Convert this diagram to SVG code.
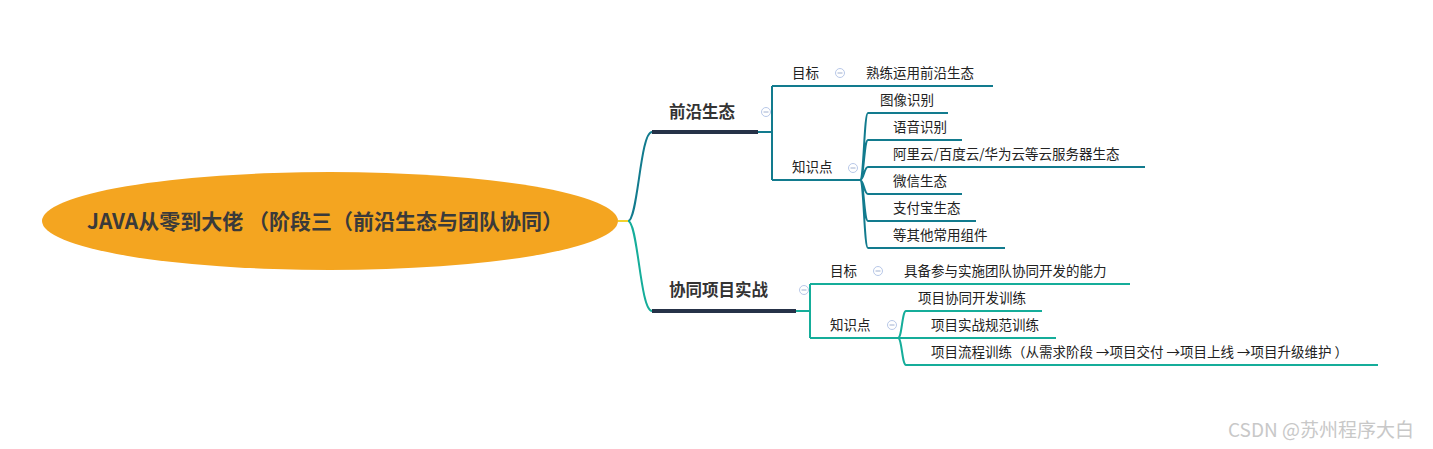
<svg xmlns="http://www.w3.org/2000/svg" width="1433" height="449" viewBox="0 0 1433 449">
<style>
text{font-family:"Noto Sans CJK SC","Noto Sans",sans-serif;fill:#222}
.t{font-size:13.5px}
.b{font-size:16.5px;font-weight:bold;fill:#333}
.a{fill:none;stroke:#127b8e;stroke-width:2}
.g{fill:none;stroke:#15ad9a;stroke-width:2}
.d{stroke:#263248;stroke-width:4}
.ic{fill:#fff;stroke:#b8c8e8;stroke-width:1}
</style>
<defs><g id="m"><circle r="4.5" class="ic"/><line x1="-2.5" x2="2.5" stroke="#a0b0d0"/></g></defs>
<rect width="1433" height="449" fill="#fff"/>
<g id="connectors">
<line x1="618" y1="221" x2="630" y2="221" stroke="#f2d22e" stroke-width="2"/>
<path class="a" d="M628 221 C638 221 640 132 652 132"/>
<path class="g" d="M628 221 C638 221 640 311 652 311"/>
<line class="d" x1="652" y1="132" x2="758" y2="132"/>
<line class="d" x1="652" y1="311" x2="796" y2="311"/>
<path class="a" d="M758 132 H772 M772 86 V180 M772 86 H993 M772 180 H860"/>
<path class="a" d="M860 180 C864 180 864 113 868 113 H948 M860 180 C864 180 864 140 868 140 H962 M860 180 C864 180 864 167 868 167 H1145 M860 180 C864 180 864 194 868 194 H962 M860 180 C864 180 864 221 868 221 H976 M860 180 C864 180 864 248 868 248 H1005"/>
<path class="g" d="M796 311 H810 M810 284 V338 M810 284 H1130 M810 338 H898"/>
<path class="g" d="M898 338 C902 338 902 311 906 311 H1042 M898 338 H1056 M898 338 C902 338 902 365 906 365 H1378"/>
</g>
<g id="root"><ellipse cx="330" cy="221" rx="288" ry="49" fill="#f4a520"/>
<text x="325" y="229" text-anchor="middle" style="font-size:21px;font-weight:bold;fill:#3a3a3a">JAVA从零到大佬 （阶段三（前沿生态与团队协同）</text></g>
<g id="n1"><text class="b" x="669" y="118">前沿生态</text><use href="#m" x="766" y="112"/></g>
<g id="n1a"><text class="t" x="792" y="78">目标</text><use href="#m" x="840" y="73"/><text class="t" x="866" y="78">熟练运用前沿生态</text></g>
<g id="n1b"><text class="t" x="792" y="172">知识点</text><use href="#m" x="853" y="168"/>
<text class="t" x="880" y="105">图像识别</text>
<text class="t" x="893" y="132">语音识别</text>
<text class="t" x="893" y="159">阿里云/百度云/华为云等云服务器生态</text>
<text class="t" x="893" y="186">微信生态</text>
<text class="t" x="893" y="213">支付宝生态</text>
<text class="t" x="893" y="240">等其他常用组件</text></g>
<g id="n2"><text class="b" x="669" y="296">协同项目实战</text><use href="#m" x="804" y="290"/></g>
<g id="n2a"><text class="t" x="830" y="276">目标</text><use href="#m" x="878" y="271"/><text class="t" x="904" y="276">具备参与实施团队协同开发的能力</text></g>
<g id="n2b"><text class="t" x="830" y="330">知识点</text><use href="#m" x="892" y="325"/>
<text class="t" x="918" y="303">项目协同开发训练</text>
<text class="t" x="931" y="330">项目实战规范训练</text>
<text class="t" x="931" y="357">项目流程训练（从需求阶段 →项目交付 →项目上线 →项目升级维护 ）</text></g>
<text x="1228" y="437" style="font-size:19px;fill:#c8c8c8">CSDN @苏州程序大白</text>
</svg>
